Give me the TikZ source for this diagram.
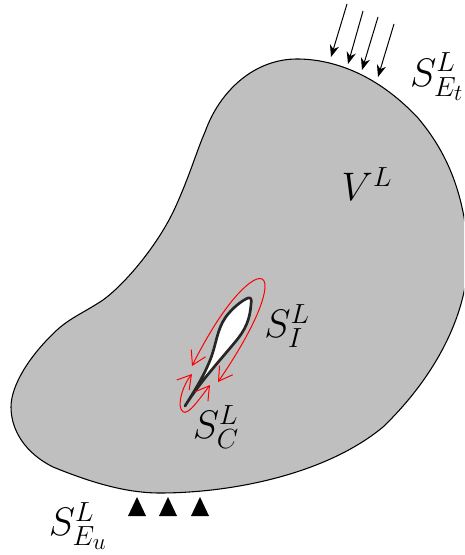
\documentclass[tikz,border=0pt]{standalone}
\usetikzlibrary{arrows.meta,shapes.geometric}
\DeclareMathSizes{24.88}{24.88}{17.28}{14.4}
\definecolor{bodygray}{HTML}{BFBFBF}
\tikzset{
  x=0.75pt,y=-0.75pt,
  body/.style={draw=black,line width=0.8pt,fill=bodygray},
  crack/.style={draw=black!85,line width=2pt,fill=white,line join=round},
  redloop/.style={draw=red,line width=0.75pt,{Straight Barb[length=10pt,width=12pt,line width=0.75pt]}-{Straight Barb[length=10pt,width=12pt,line width=0.75pt]}},
  load/.style={draw=black,line width=0.75pt,-{Stealth[length=9pt,width=7pt]}},
  lbl/.style={inner sep=0pt,font=\fontsize{24.88}{30}\selectfont,scale=1.2,transform shape}
}
\begin{document}
\begin{tikzpicture}
\useasboundingbox (0,0) rectangle (464,555);
\begin{scope}
\clip (0,0) rectangle (464,555);
\draw[body] (297,59)
 .. controls (330,59) and (375,72) .. (418,118)
 .. controls (445,150) and (464,190) .. (468,250)
 .. controls (470,310) and (437,375) .. (383,427)
 .. controls (325,475) and (230,493) .. (160,493)
 .. controls (125,493) and (90,482) .. (53,467)
 .. controls (25,453) and (11,430) .. (11,407)
 .. controls (11,385) and (30,355) .. (57,330)
 .. controls (70,318) and (85,312) .. (103,300)
 .. controls (125,284) and (158,245) .. (175,208)
 .. controls (190,175) and (197,150) .. (205,132)
 .. controls (220,90) and (255,59) .. (297,59) -- cycle;
\end{scope}
\draw[crack] (185,406) .. controls (193,393) and (205,375) .. (212,355)
 .. controls (217,340) and (218,325) .. (229,313)
 .. controls (235,306) and (243,300) .. (248,298)
 .. controls (251,297) and (252,300) .. (251,304)
 .. controls (250,320) and (245,330) .. (236,341)
 .. controls (222,358) and (200,382) .. (185,406) -- cycle;
\coordinate (a1) at (192,366);
\coordinate (a2) at (218,382);
\coordinate (b1) at (192,374);
\coordinate (b2) at (210,385);
\draw[redloop]
 (a1) .. controls (205,340) and (225,305) .. (245,287)
 .. controls (257,276) and (266,275) .. (265,288)
 .. controls (263,310) and (240,350) .. (a2);
\draw[redloop]
 (b1) .. controls (183,385) and (178,402) .. (181,409)
 .. controls (185,418) and (193,408) .. (b2);
\foreach \i/\xa/\ya/\xb/\yb in {1/347/4/331/57,2/363/11/348/64,3/378/17/362/70,4/394/24/378/77}{
  \coordinate (s\i) at (\xa,\ya);
  \coordinate (e\i) at (\xb,\yb);
  \draw[load] (s\i) -- (e\i);
}
\foreach \xx in {137,168,200}{
  \fill (\xx-9,516) -- (\xx+9,516) -- (\xx,497) -- cycle;
}
\node[lbl] (se) at (437,77) {$S^{L}_{E_t}$};
\node[lbl] (v) at (367,184) {$V^{L}$};
\node[lbl] (si) at (287,326) {$S^{L}_{I}$};
\node[lbl] (sc) at (216,427) {$S^{L}_{C}$};
\node[lbl] (su) at (78,526) {$S^{L}_{E_u}$};
\end{tikzpicture}
\end{document}
